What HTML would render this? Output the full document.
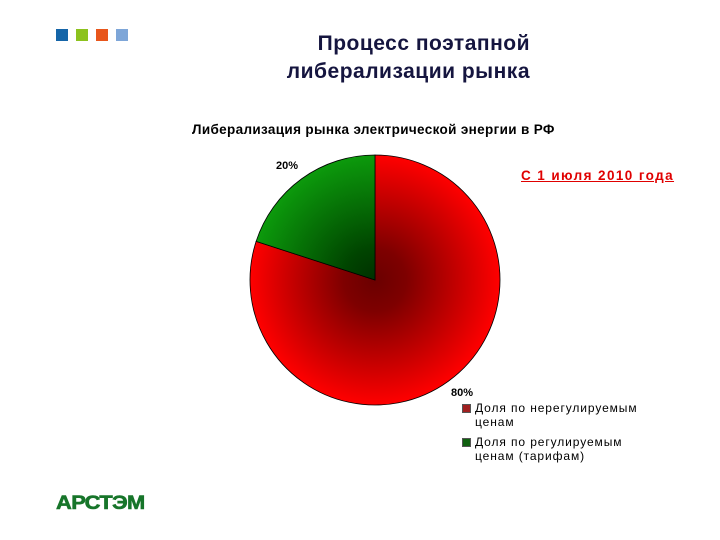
<!DOCTYPE html>
<html><head><meta charset="utf-8"><style>
body{margin:0;width:720px;height:540px;background:#fff;position:relative;overflow:hidden;font-family:"Liberation Sans",sans-serif}
.sq{position:absolute;top:29px;width:12px;height:12px}
.t{position:absolute;font-weight:bold;color:#1a1a3a}
</style></head><body>
<div class="sq" style="left:56px;background:#1565a8"></div>
<div class="sq" style="left:76px;background:#8cc21e"></div>
<div class="sq" style="left:96px;background:#e8561c"></div>
<div class="sq" style="left:116px;background:#7ea6d8"></div>
<div class="t" style="left:200px;top:30px;width:330px;text-align:right;font-size:21px;letter-spacing:0.5px;line-height:28px;color:#15153f">Процесс поэтапной<br>либерализации рынка</div>
<div class="t" style="left:192px;top:122px;font-size:13.5px;letter-spacing:0.35px;color:#000">Либерализация рынка электрической энергии в РФ</div>
<div style="position:absolute;left:521px;top:168px;font-size:13.5px;font-weight:bold;letter-spacing:1.4px;color:#e00000;text-decoration:underline">С 1 июля 2010 года</div>
<svg id="pie" width="720" height="540" style="position:absolute;left:0;top:0">
<defs>
<radialGradient id="gr" cx="375" cy="280" r="125" gradientUnits="userSpaceOnUse"><stop offset="0" stop-color="#6a0000"/><stop offset="0.25" stop-color="#7e0000"/><stop offset="1" stop-color="#ff0000"/></radialGradient>
<radialGradient id="gg" cx="375" cy="280" r="125" gradientUnits="userSpaceOnUse"><stop offset="0" stop-color="#003000"/><stop offset="0.25" stop-color="#004400"/><stop offset="1" stop-color="#0c9a0c"/></radialGradient>
</defs>
</svg>
<div class="t" style="left:276px;top:160px;font-size:11px;color:#000">20%</div>
<div class="t" style="left:451px;top:387px;font-size:11px;color:#000">80%</div>
<div style="position:absolute;left:462px;top:401px;font-size:12px;letter-spacing:0.9px;line-height:14px;color:#000">
<div style="position:relative;padding-left:13px"><span style="position:absolute;left:0;top:3px;width:7px;height:7px;background:#a02020;border:1px solid #555"></span>Доля по нерегулируемым<br>ценам</div>
<div style="position:relative;padding-left:13px;margin-top:6px"><span style="position:absolute;left:0;top:3px;width:7px;height:7px;background:#106010;border:1px solid #555"></span>Доля по регулируемым<br>ценам (тарифам)</div>
</div>
<div style="position:absolute;left:56px;top:493px;font-size:19px;font-weight:900;color:#17752a;letter-spacing:-0.5px;transform:scaleX(1.15);transform-origin:left;-webkit-text-stroke:0.6px #17752a">АРСТЭМ</div>
<script>
const categories=["Доля по нерегулируемым ценам","Доля по регулируемым ценам (тарифам)"];
const values=[80,20];
const fills=["url(#gr)","url(#gg)"];
const svg=document.getElementById('pie');
const cx=375,cy=280,r=125;
const total=values.reduce((a,b)=>a+b,0);
let a0=0;
values.forEach((v,i)=>{
  const a1=a0+v/total*2*Math.PI;
  const p=a=>[cx+r*Math.sin(a),cy-r*Math.cos(a)];
  const [x0,y0]=p(a0),[x1,y1]=p(a1);
  const path=document.createElementNS('http://www.w3.org/2000/svg','path');
  path.setAttribute('d',`M${cx},${cy}L${x0},${y0}A${r},${r} 0 ${a1-a0>Math.PI?1:0} 1 ${x1},${y1}Z`);
  path.setAttribute('fill',fills[i]);
  path.setAttribute('stroke','#000');
  path.setAttribute('stroke-width','0.8');
  
  
  svg.appendChild(path);
  a0=a1;
});
</script>
</body></html>
